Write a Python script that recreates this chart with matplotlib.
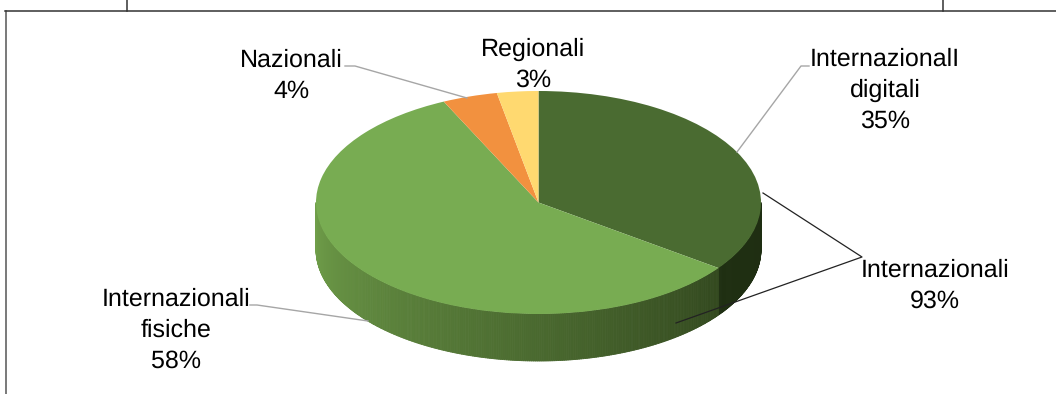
import numpy as np
import matplotlib
matplotlib.use("Agg")
import matplotlib.pyplot as plt
from matplotlib.collections import PolyCollection
from matplotlib.colors import to_rgb

plt.rcParams['font.family'] = ['Liberation Sans', 'DejaVu Sans']
plt.rcParams['text.hinting'] = 'no_hinting'
plt.rcParams['text.hinting_factor'] = 1

W, H = 1056, 394
# Slices, clockwise from 12 o'clock
labels = ['Internazionali\ndigitali\n35%', 'Internazionali\nfisiche\n58%', 'Nazionali\n4%', 'Regionali\n3%']
values = [35, 58, 4, 3]
top_colors = ['#4a6b31', '#78ac52', '#f2913f', '#ffd970']
side_dark = ['#1d2c11', '#33491f', '#b0662a', '#b89a4e']
side_light = ['#1f2f12', '#709f4a', '#f2913f', '#ffd970']

fig = plt.figure(figsize=(W / 100, H / 100), dpi=100, facecolor='white')

# Overlay in pixel coordinates for frame, leaders and text
ov = fig.add_axes([0, 0, 1, 1], zorder=3)
ov.set_xlim(0, W); ov.set_ylim(H, 0); ov.axis('off'); ov.patch.set_alpha(0)

# Pie axes: the axes box is the ellipse of the top face
L, R, T, B = 316, 761, 91, 314
depth_px = 47
ax = fig.add_axes([L / W, 1 - B / H, (R - L) / W, (B - T) / H], zorder=1)
wedges, _ = ax.pie(values, colors=top_colors, startangle=90, counterclock=False, radius=1)
ax.set_aspect('auto'); ax.set_xlim(-1, 1); ax.set_ylim(-1, 1); ax.axis('off')
for w in wedges:
    w.set_clip_on(False); w.set_zorder(3)

# Side wall of the disc, as strips with a stepped gradient
depth = depth_px / ((B - T) / 2)
bounds = np.cumsum([0] + values) / sum(values) * 360
polys, cols = [], []
for i in range(len(values)):
    a0, a1 = bounds[i], bounds[i + 1]
    lo, hi = max(a0, 90), min(a1, 270)
    if hi <= lo:
        continue
    edges = np.linspace(lo, hi, int((hi - lo) * 2) + 2)
    for e0, e1 in zip(edges[:-1], edges[1:]):
        t = np.radians(np.linspace(e0, e1, 3))
        x, y = np.sin(t), np.cos(t)
        polys.append(list(zip(x, y)) + list(zip(x[::-1], y[::-1] - depth)))
        f = (e0 - a0) / max(hi - a0, 1e-6)
        c = np.array(to_rgb(side_dark[i])) * (1 - f) + np.array(to_rgb(side_light[i])) * f
        cols.append(c)
side = PolyCollection(polys, facecolors=cols, edgecolors=cols, linewidths=0.6,
                      clip_on=False, zorder=2)
ax.add_collection(side)

# Frame at the top of the picture
FR = '#333333'
ov.plot([5.5, 5.5], [10.5, H], color='#555555', lw=1.1)
ov.plot([5, W], [10.5, 10.5], color=FR, lw=1.1)
ov.plot([127, 127], [0, 10.5], color=FR, lw=1.1)
ov.plot([943, 943], [0, 10.5], color=FR, lw=1.1)

# Leader lines
GR = '#a6a6a6'
ov.plot([809, 801, 737], [66, 66, 152], color=GR, lw=1)
ov.plot([345, 355, 467], [66, 66, 98], color=GR, lw=1)
ov.plot([250, 257, 368], [305, 305, 321], color=GR, lw=1)
ov.plot([763, 862, 676], [193, 257, 323], color='#222222', lw=0.9)

# Labels
fs = 18
kw = dict(ha='center', va='center', fontsize=fs, color='#000000', linespacing=1.42)
ov.text(885, 90, 'InternazionalI\ndigitali\n35%', **kw)
ov.text(176, 330, labels[1], **kw)
ov.text(291, 76, labels[2], **kw)
ov.text(533, 64.5, labels[3], **kw)
ov.text(935, 286, 'Internazionali\n93%', **kw)

fig.savefig('out.png', dpi=100)
